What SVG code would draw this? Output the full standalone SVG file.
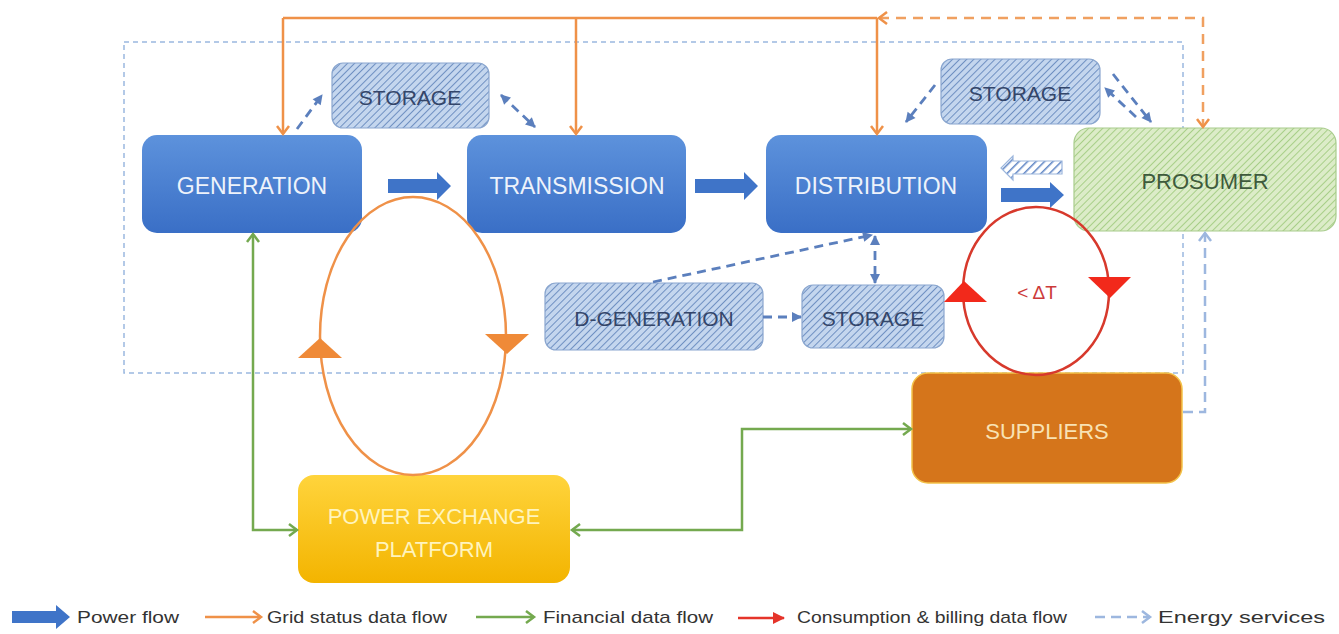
<svg xmlns="http://www.w3.org/2000/svg" width="1339" height="634" viewBox="0 0 1339 634">
  <style>
    .lbl { font-family: "Liberation Sans", Arial, sans-serif; text-anchor: middle; dominant-baseline: central; }
    .main { fill: #eef3fb; font-size: 23px; }
    .stor { fill: #34466a; font-size: 21px; }
    .leg { font-family: "Liberation Sans", Arial, sans-serif; font-size: 17px; fill: #333; }
    .orange { stroke: #ef9148; stroke-width: 2.5; fill: none; }
    .orange-d { stroke: #f0a060; stroke-width: 2.5; fill: none; stroke-dasharray: 10 7; }
    .green { stroke: #74a94f; stroke-width: 2.5; fill: none; }
    .svc { stroke: #5b7fbd; stroke-width: 2.8; fill: none; stroke-dasharray: 9 6; }
    .svc-l { stroke: #9db7df; stroke-width: 2.5; fill: none; stroke-dasharray: 10 6; }
    .power { fill: #3f74c8; }
  </style>
  <defs>
    <linearGradient id="blueGrad" x1="0" y1="0" x2="0" y2="1">
      <stop offset="0" stop-color="#5d92dc"/>
      <stop offset="1" stop-color="#3a6fc6"/>
    </linearGradient>
    <linearGradient id="goldGrad" x1="0" y1="0" x2="0" y2="1">
      <stop offset="0" stop-color="#ffd43c"/>
      <stop offset="1" stop-color="#f3b400"/>
    </linearGradient>
    <pattern id="hatchBlue" width="5" height="5" patternUnits="userSpaceOnUse" patternTransform="rotate(45)">
      <rect width="5" height="5" fill="#c4d6ee"/>
      <line x1="0" y1="0" x2="0" y2="5" stroke="#6f90c2" stroke-width="2"/>
    </pattern>
    <pattern id="hatchGreen" width="5" height="5" patternUnits="userSpaceOnUse" patternTransform="rotate(45)">
      <rect width="5" height="5" fill="#dcecc8"/>
      <line x1="0" y1="0" x2="0" y2="5" stroke="#a8cf88" stroke-width="2"/>
    </pattern>
    <pattern id="hatchArrow" width="6" height="6" patternUnits="userSpaceOnUse" patternTransform="rotate(45)">
      <rect width="6" height="6" fill="#ffffff"/>
      <line x1="0" y1="0" x2="0" y2="6" stroke="#5d84c4" stroke-width="3"/>
    </pattern>
    <marker id="chevOrange" markerUnits="userSpaceOnUse" markerWidth="14" markerHeight="14" refX="10" refY="7" orient="auto-start-reverse">
      <path d="M2,1 L10,7 L2,13" fill="none" stroke="#ef9148" stroke-width="2.5"/>
    </marker>
    <marker id="chevGreen" markerUnits="userSpaceOnUse" markerWidth="14" markerHeight="14" refX="10" refY="7" orient="auto-start-reverse">
      <path d="M2,1 L10,7 L2,13" fill="none" stroke="#74a94f" stroke-width="2.5"/>
    </marker>
    <marker id="chevLight" markerUnits="userSpaceOnUse" markerWidth="14" markerHeight="14" refX="10" refY="7" orient="auto-start-reverse">
      <path d="M2,1 L10,7 L2,13" fill="none" stroke="#9db7df" stroke-width="2.5"/>
    </marker>
    <marker id="triSvc" markerUnits="userSpaceOnUse" markerWidth="12" markerHeight="12" refX="10" refY="6" orient="auto-start-reverse">
      <path d="M1,1 L11,6 L1,11 Z" fill="#5b7fbd"/>
    </marker>
    <marker id="triRed" markerUnits="userSpaceOnUse" markerWidth="14" markerHeight="14" refX="11" refY="7" orient="auto">
      <path d="M0,1 L12,7 L0,13 Z" fill="#e5342a"/>
    </marker>
  </defs>

  <rect width="1339" height="634" fill="#ffffff"/>

  <!-- grid boundary -->
  <rect x="124" y="42" width="1059" height="331" fill="none" stroke="#9ab8df" stroke-width="1.5" stroke-dasharray="5 4"/>

  <g id="generation">
    <rect x="142" y="135" width="220" height="98" rx="15" fill="url(#blueGrad)"/>
    <text class="lbl main" x="252" y="186">GENERATION</text>
  </g>
  <g id="transmission">
    <rect x="467" y="135" width="219" height="98" rx="15" fill="url(#blueGrad)"/>
    <text class="lbl main" x="577" y="186">TRANSMISSION</text>
  </g>
  <g id="distribution">
    <rect x="766" y="135" width="221" height="98" rx="15" fill="url(#blueGrad)"/>
    <text class="lbl main" x="876" y="186">DISTRIBUTION</text>
  </g>
  <g id="storage-gen">
    <rect x="332" y="63" width="157" height="65" rx="11" fill="url(#hatchBlue)" stroke="#8aa6cf" stroke-width="1.2"/>
    <text class="lbl stor" x="410" y="97">STORAGE</text>
  </g>
  <g id="storage-dist">
    <rect x="941" y="59" width="159" height="65" rx="11" fill="url(#hatchBlue)" stroke="#8aa6cf" stroke-width="1.2"/>
    <text class="lbl stor" x="1020" y="93">STORAGE</text>
  </g>
  <g id="prosumer">
    <rect x="1074" y="128" width="262" height="103" rx="15" fill="url(#hatchGreen)" stroke="#a8cc8c" stroke-width="1.2"/>
    <text class="lbl" x="1205" y="181" style="fill:#3e5a3c;font-size:22px">PROSUMER</text>
  </g>
  <g id="d-generation">
    <rect x="545" y="283" width="218" height="67" rx="11" fill="url(#hatchBlue)" stroke="#8aa6cf" stroke-width="1.2"/>
    <text class="lbl stor" x="654" y="318">D-GENERATION</text>
  </g>
  <g id="storage-local">
    <rect x="802" y="285" width="142" height="63" rx="11" fill="url(#hatchBlue)" stroke="#8aa6cf" stroke-width="1.2"/>
    <text class="lbl stor" x="873" y="318">STORAGE</text>
  </g>
  <g id="suppliers">
    <rect x="912" y="373" width="270" height="110" rx="16" fill="#d5751b" stroke="#f3c24a" stroke-width="1.5"/>
    <text class="lbl" x="1047" y="431" style="fill:#f8e2b4;font-size:22px">SUPPLIERS</text>
  </g>
  <g id="power-exchange">
    <rect x="298" y="475" width="272" height="108" rx="16" fill="url(#goldGrad)"/>
    <text class="lbl" x="434" y="516" style="fill:#fff4bd;font-size:22px">POWER EXCHANGE</text>
    <text class="lbl" x="434" y="549" style="fill:#fff4bd;font-size:22px">PLATFORM</text>
  </g>

  <g id="connectors">
    <!-- power flow -->
    <path class="power" d="M388,179 L437,179 L437,172 L451,186 L437,200 L437,193 L388,193 Z"/>
    <path class="power" d="M695,179 L744,179 L744,172 L758,186 L744,200 L744,193 L695,193 Z"/>
    <path class="power" d="M1001,188 L1050,188 L1050,182 L1064,195 L1050,208 L1050,202 L1001,202 Z"/>
    <!-- reverse power flow from prosumer -->
    <path d="M1062,161 L1013,161 L1013,156 L1001,168 L1013,180 L1013,174 L1062,174 Z" fill="url(#hatchArrow)" stroke="#9bb5dc" stroke-width="1.2"/>

    <!-- grid status data flow -->
    <path class="orange" d="M283,18 L877,18"/>
    <path class="orange" d="M283,18 L283,134" marker-end="url(#chevOrange)"/>
    <path class="orange" d="M576,18 L576,134" marker-end="url(#chevOrange)"/>
    <path class="orange" d="M877,18 L877,134" marker-end="url(#chevOrange)"/>
    <path class="orange-d" d="M879,18 L1203,18 L1203,127" marker-start="url(#chevOrange)" marker-end="url(#chevOrange)"/>
    <ellipse class="orange" cx="413" cy="336" rx="93" ry="139"/>
    <path d="M320,338 L298,358 L342,358 Z" fill="#ef8a38"/>
    <path d="M507,354 L485,334 L529,334 Z" fill="#ef8a38"/>

    <!-- financial data flow -->
    <path class="green" d="M253,234 L253,530 L297,530" marker-start="url(#chevGreen)" marker-end="url(#chevGreen)"/>
    <path class="green" d="M572,530 L742,530 L742,429 L911,429" marker-start="url(#chevGreen)" marker-end="url(#chevGreen)"/>

    <!-- consumption and billing loop -->
    <ellipse cx="1036" cy="291" rx="73" ry="84" fill="none" stroke="#d7392c" stroke-width="2.5"/>
    <path d="M964,281 L944,302 L987,302 Z" fill="#f2291b"/>
    <path d="M1110,298 L1088,277 L1131,277 Z" fill="#f2291b"/>
    <text class="lbl" x="1037" y="292" style="fill:#cc3a3a;font-size:19px">&lt; ΔT</text>

    <!-- energy services -->
    <path class="svc" d="M297,129 L322,95" marker-end="url(#triSvc)"/>
    <path class="svc" d="M501,95 L535,127" marker-start="url(#triSvc)" marker-end="url(#triSvc)"/>
    <path class="svc" d="M935,85 L906,122" marker-end="url(#triSvc)"/>
    <path class="svc" d="M1136,117 L1105,88" marker-end="url(#triSvc)"/>
    <path class="svc" d="M1113,74 L1151,122" marker-end="url(#triSvc)"/>
    <path class="svc" d="M653,282 L872,235" marker-end="url(#triSvc)"/>
    <path class="svc" d="M875,236 L875,283" marker-start="url(#triSvc)" marker-end="url(#triSvc)"/>
    <path class="svc" d="M763,317 L801,317" marker-end="url(#triSvc)"/>
    <path class="svc-l" d="M1183,412 L1205,412 L1205,233" marker-end="url(#chevLight)"/>
  </g>

  <g id="legend">
    <path class="power" d="M12,611 L56,611 L56,605 L70,617 L56,629 L56,623 L12,623 Z"/>
    <text class="leg" x="77" y="623" textLength="102" lengthAdjust="spacingAndGlyphs">Power flow</text>
    <path class="orange" d="M205,617 L261,617" marker-end="url(#chevOrange)"/>
    <text class="leg" x="267" y="623" textLength="180" lengthAdjust="spacingAndGlyphs">Grid status data flow</text>
    <path class="green" d="M476,617 L534,617" marker-end="url(#chevGreen)"/>
    <text class="leg" x="543" y="623" textLength="170" lengthAdjust="spacingAndGlyphs">Financial data flow</text>
    <path d="M738,618 L784,618" stroke="#e5342a" stroke-width="2.5" fill="none" marker-end="url(#triRed)"/>
    <text class="leg" x="797" y="623" textLength="270" lengthAdjust="spacingAndGlyphs">Consumption &amp; billing data flow</text>
    <path class="svc-l" d="M1095,617 L1150,617" marker-end="url(#chevLight)"/>
    <text class="leg" x="1158" y="623" textLength="167" lengthAdjust="spacingAndGlyphs">Energy services</text>
  </g>
</svg>
